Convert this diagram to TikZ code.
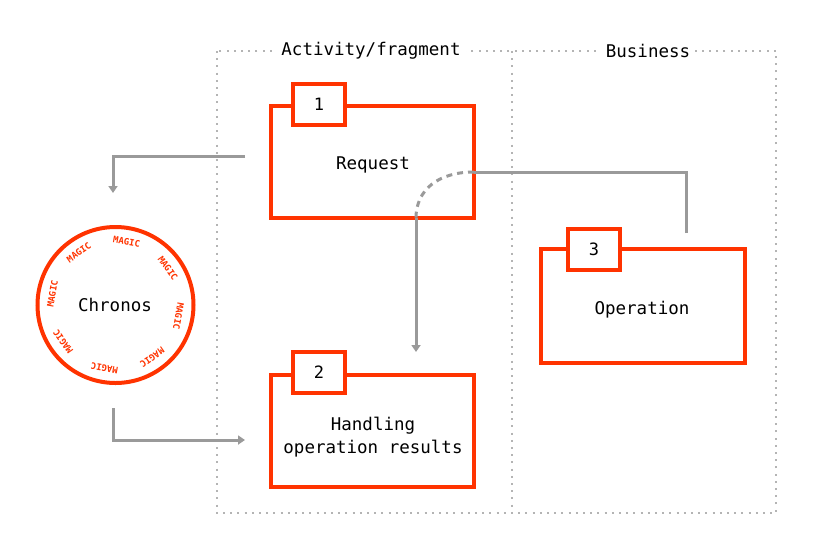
\documentclass[tikz,border=0pt]{standalone}
\usepackage{fontspec}
\setmonofont{DejaVu Sans Mono}
\usetikzlibrary{arrows.meta,calc}
\definecolor{redc}{HTML}{FF3300}
\definecolor{grayc}{HTML}{9A9A9A}
\definecolor{dotc}{HTML}{B4B4B4}
\tikzset{
  mainbox/.style={draw=redc,line width=4pt,minimum width=203pt,minimum height=112pt,inner sep=0pt,fill=white},
  boxtext/.style={font=\ttfamily\fontsize{17.5}{23}\selectfont,align=center,inner sep=0pt},
  tabbox/.style={draw=redc,line width=4pt,minimum width=52pt,minimum height=41pt,inner sep=0pt,fill=white,font=\ttfamily\fontsize{17}{18}\selectfont},
  conn/.style={draw=grayc,line width=3pt},
  arr/.style={conn,-{Triangle[width=9pt,length=7pt]}},
  frame/.style={draw=dotc,line width=2pt,dash pattern=on 2pt off 5.2pt},
  title/.style={fill=white,inner xsep=5pt,inner ysep=2pt,font=\ttfamily\fontsize{17.5}{18}\selectfont},
  magic/.style={text=redc,font=\ttfamily\bfseries\fontsize{9}{9}\selectfont,inner sep=0pt}
}
\begin{document}
\begin{tikzpicture}[x=1pt,y=-1pt]
\useasboundingbox (0,0) rectangle (813,552);
% frame
\draw[frame] (217,51) rectangle (776,513);
\draw[frame] (512,51) -- (512,513);
\node[title] (t1) at (371,51) {Activity/fragment};
\node[title] (t2) at (648,51) {Business};
% boxes
\node[mainbox] (b1) at (372.5,162) {};
\node[boxtext] (b1t) at (373,165) {Request};
\node[tabbox] (tab1) at (319,104.5) {1};
\node[mainbox] (b2) at (372.5,430.5) {};
\node[boxtext] (b2t) at (373,437) {Handling\\operation results};
\node[tabbox] (tab2) at (319,372.5) {2};
\node[mainbox,minimum width=204pt,minimum height=114pt] (b3) at (643,306) {};
\node[boxtext] (b3t) at (642,310) {Operation};
\node[tabbox] (tab3) at (594,249) {3};
% circle
\draw[draw=redc,line width=4pt] (115.5,305) circle[radius=78pt];
\node[boxtext] (c) at (115,305) {Chronos};
\foreach \a [count=\i] in {80,35,-10,-55,-100,-145,170,125}{
  \node[magic,rotate=\a-90] (m\i) at ($(115.5,305)+(\a:64pt)$) {MAGIC};
}
% connectors
\coordinate (p1) at (245,156);
\coordinate (p1e) at (113,193);
\draw[arr] (p1) -| (p1e);
\coordinate (p2) at (113,408);
\coordinate (p2e) at (245,440);
\draw[arr] (p2) |- (p2e);
\coordinate (p3) at (686,233);
\coordinate (p3b) at (474,172);
\coordinate (p3c) at (416,218);
\coordinate (p3e) at (416,352);
\draw[conn] (p3) |- (p3b);
\draw[conn,dash pattern=on 6pt off 5pt] (p3b) .. controls (438,172) and (416,190) .. (p3c);
\draw[arr] (p3c) -- (p3e);
\end{tikzpicture}
\end{document}
